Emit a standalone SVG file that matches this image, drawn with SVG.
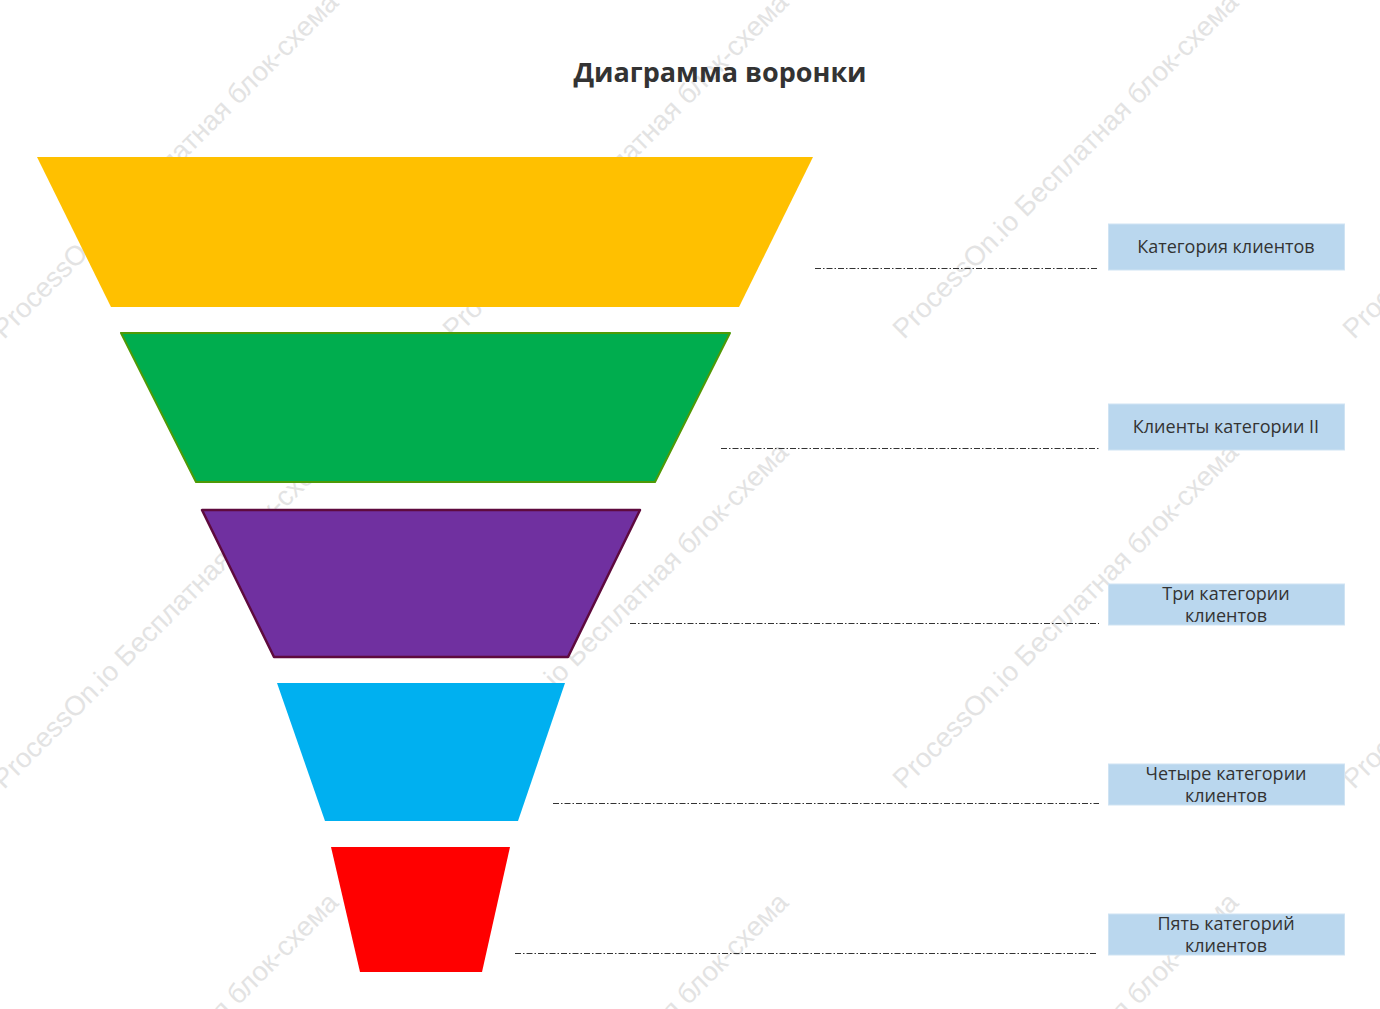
<svg xmlns="http://www.w3.org/2000/svg" width="1380" height="1009" viewBox="0 0 1380 1009">
<style>
.wm{font-family:"Liberation Sans",Arial,sans-serif;font-size:27.5px;fill:#e3e3e3}
.title{font-family:"Open Sans","Noto Sans",sans-serif;font-size:27px;font-weight:bold;fill:#333}
.lbl{font-family:"Open Sans","Noto Sans",sans-serif;font-size:18px;fill:#333;text-anchor:middle}
.box{fill:#bad7ee;stroke:#cfe3f3;stroke-width:1}
.conn{stroke:#333;stroke-width:1;fill:none;stroke-dasharray:6 2 1.5 2}
</style>
<defs>
<text id="wmt" class="wm">ProcessOn.io Бесплатная блок-схема</text>
</defs>
<rect width="1380" height="1009" fill="#fff"/>
<g id="watermark">
<use href="#wmt" transform="translate(4,340) rotate(-45)"/>
<use href="#wmt" transform="translate(454,340) rotate(-45)"/>
<use href="#wmt" transform="translate(904,340) rotate(-45)"/>
<use href="#wmt" transform="translate(1354,340) rotate(-45)"/>
<use href="#wmt" transform="translate(4,790) rotate(-45)"/>
<use href="#wmt" transform="translate(454,790) rotate(-45)"/>
<use href="#wmt" transform="translate(904,790) rotate(-45)"/>
<use href="#wmt" transform="translate(1354,790) rotate(-45)"/>
<use href="#wmt" transform="translate(4,1240) rotate(-45)"/>
<use href="#wmt" transform="translate(454,1240) rotate(-45)"/>
<use href="#wmt" transform="translate(904,1240) rotate(-45)"/>
</g>
<text class="title" x="720" y="82" text-anchor="middle">Диаграмма воронки</text>
<g id="funnel1"><polygon points="37,157 813,157 739,307 111,307" fill="#ffc000"/></g>
<g id="funnel2"><polygon points="121,333 730,333 655,482 196,482" fill="#00ad4e" stroke="#4e9a06" stroke-width="2" stroke-linejoin="round"/></g>
<g id="funnel3"><polygon points="202,510 640,510 568,657 274,657" fill="#7030a0" stroke="#5e0a3e" stroke-width="2.5" stroke-linejoin="round"/></g>
<g id="funnel4"><polygon points="277,683 565,683 518,821 325,821" fill="#00b0f0"/></g>
<g id="funnel5"><polygon points="331,847 510,847 482,972 360,972" fill="#ff0000"/></g>
<g id="connectors">
<line class="conn" x1="815" y1="268.5" x2="1097" y2="268.5"/>
<line class="conn" x1="721" y1="448.5" x2="1099" y2="448.5"/>
<line class="conn" x1="630" y1="623.5" x2="1099" y2="623.5"/>
<line class="conn" x1="553" y1="803.5" x2="1099" y2="803.5"/>
<line class="conn" x1="515" y1="953.5" x2="1097" y2="953.5"/>
</g>
<g id="label1"><rect class="box" x="1108.5" y="224" width="236" height="46"/><text class="lbl" x="1226" y="253">Категория клиентов</text></g>
<g id="label2"><rect class="box" x="1108.5" y="404" width="236" height="46"/><text class="lbl" x="1226" y="433">Клиенты категории II</text></g>
<g id="label3"><rect class="box" x="1108.5" y="584" width="236" height="41"/><text class="lbl" x="1226" y="600">Три категории</text><text class="lbl" x="1226" y="622">клиентов</text></g>
<g id="label4"><rect class="box" x="1108.5" y="764" width="236" height="41"/><text class="lbl" x="1226" y="780">Четыре категории</text><text class="lbl" x="1226" y="802">клиентов</text></g>
<g id="label5"><rect class="box" x="1108.5" y="914" width="236" height="41"/><text class="lbl" x="1226" y="930">Пять категорий</text><text class="lbl" x="1226" y="952">клиентов</text></g>
</svg>
